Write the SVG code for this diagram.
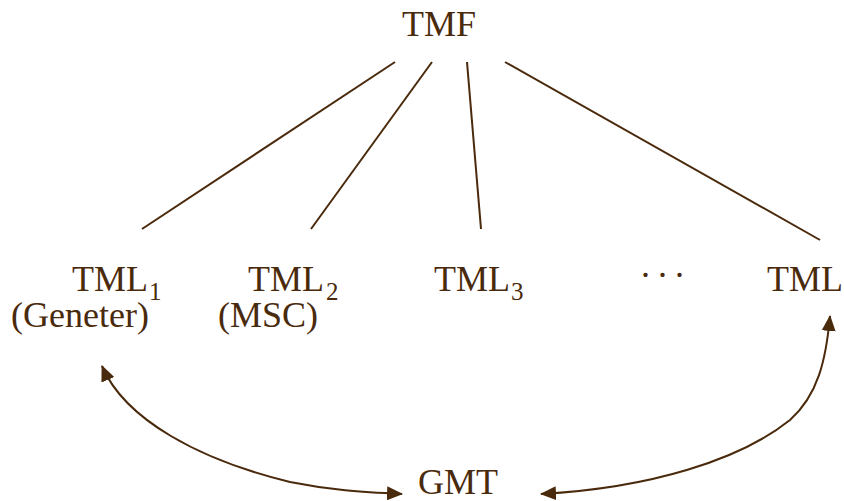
<svg xmlns="http://www.w3.org/2000/svg" width="844" height="501" viewBox="0 0 844 501">
<style>
text{fill:#4a2a0c;font-size:36px}
.sub{font-size:25px}
.ln{stroke:#4a2a0c;stroke-width:2;fill:none}
</style>
<defs>
<marker id="ah2" viewBox="0 0 16 14" refX="15" refY="7" markerWidth="16" markerHeight="14" markerUnits="userSpaceOnUse" orient="auto-start-reverse">
<path d="M0,0 L16,7 L0,14 z" fill="#4a2a0c"/>
</marker>
</defs>
<g font-family="'Liberation Serif', 'Times New Roman', 'DejaVu Serif', serif">
<g id="TMF"><text x="402" y="36" font-size="35">TMF</text></g>
<g id="TML1"><text x="72" y="291">TML</text><text class="sub" x="149" y="300">1</text><text x="11" y="327" font-size="35">(Geneter)</text></g>
<g id="TML2"><text x="248" y="291">TML</text><text class="sub" x="326" y="300">2</text><text x="218" y="327" font-size="35">(MSC)</text></g>
<g id="TML3"><text x="434" y="291">TML</text><text class="sub" x="511" y="300">3</text></g>
<g id="dots"><text x="641" y="277" letter-spacing="8">...</text></g>
<g id="TMLn"><text x="767" y="291" font-size="34">TML</text></g>
<g id="GMT"><text x="418" y="494" font-size="34">GMT</text></g>
</g>
<g id="connectors">
<line class="ln" x1="395" y1="62" x2="142" y2="229"/>
<line class="ln" x1="432" y1="62" x2="311" y2="229"/>
<line class="ln" x1="467" y1="62" x2="481" y2="229"/>
<line class="ln" x1="505" y1="62" x2="820" y2="240"/>
<path class="ln" d="M102,366 C125,420 200,460 290,482 C330,490 360,492 402,494" marker-start="url(#ah2)" marker-end="url(#ah2)"/>
<path class="ln" d="M541,494 C650,488 740,460 790,420 C818,395 826,360 830,316" marker-start="url(#ah2)" marker-end="url(#ah2)"/>
</g>
</svg>
